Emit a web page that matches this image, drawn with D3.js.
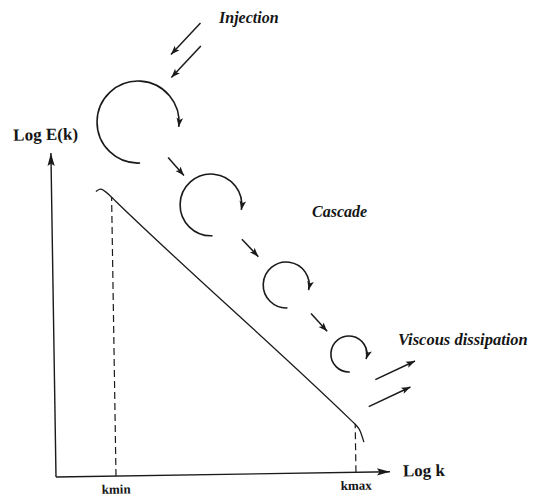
<!DOCTYPE html>
<html>
<head>
<meta charset="utf-8">
<script src="https://cdn.jsdelivr.net/npm/d3@7"></script>
<style>
    body { margin: 0; background: #fff; }
    svg { display: block; }
    text { font-family: "Liberation Serif", "Times New Roman", serif; font-weight: bold; fill: #151515; }
</style>
</head>
<body>
<div id="chart"></div>
<script>
// energy spectrum (log k, log E)
const spectrumLogK = [1.11, 1.22, 1.5, 1.6, 7.4, 7.5, 7.62, 7.71];
const spectrumLogE = [7.12, 7.18, 6.97, 6.87, 1.3, 1.2, 1.03, 0.75];

// cut-off wavenumbers
const cutoffNames = ["kmin", "kmax"];
const cutoffLogK = [1.5, 7.5];

// eddies of the cascade (where they sit in the log k / log E plane)
const eddyLogK = [2.19, 3.98, 5.83, 7.37];
const eddyLogE = [8.84, 6.74, 4.71, 2.96];

const axisTitles = ["Log k", "Log E(k)"];
const stageLabels = ["Injection", "Cascade", "Viscous dissipation"];

const width = 535, height = 496;
const ink = "#1a1a1a";

const svg = d3.select("#chart").append("svg")
    .attr("width", width)
    .attr("height", height);

svg.append("rect").attr("width", width).attr("height", height).attr("fill", "#fff");

// arrow heads
const defs = svg.append("defs");
defs.append("marker")
    .attr("id", "head")
    .attr("markerUnits", "userSpaceOnUse")
    .attr("viewBox", "-1 -5 12 10")
    .attr("refX", 9).attr("refY", 0)
    .attr("markerWidth", 12).attr("markerHeight", 10)
    .attr("orient", "auto")
    .append("path")
    .attr("d", "M0,-3.3L9,0L0,3.3L2,0Z")
    .attr("fill", ink);
defs.append("marker")
    .attr("id", "axisHead")
    .attr("markerUnits", "userSpaceOnUse")
    .attr("viewBox", "-1 -5 16 10")
    .attr("refX", 13).attr("refY", 0)
    .attr("markerWidth", 16).attr("markerHeight", 10)
    .attr("orient", "auto")
    .append("path")
    .attr("d", "M0,-3.6L13,0L0,3.6L2.5,0Z")
    .attr("fill", ink);

// the scan is tilted by about one degree
const plot = svg.append("g")
    .attr("transform", "rotate(-0.9, 56, 477)");

const x = d3.scaleLinear().domain([0, 8.35]).range([56, 390]);
const y = d3.scaleLinear().domain([0, 8.1]).range([477, 153]);

// axes
plot.append("line")
    .attr("x1", x(0)).attr("y1", y(0))
    .attr("x2", x(x.domain()[1])).attr("y2", y(0))
    .attr("stroke", ink).attr("stroke-width", 1.4)
    .attr("marker-end", "url(#axisHead)");
plot.append("line")
    .attr("x1", x(0)).attr("y1", y(0))
    .attr("x2", x(0)).attr("y2", y(y.domain()[1]))
    .attr("stroke", ink).attr("stroke-width", 1.4)
    .attr("marker-end", "url(#axisHead)");

plot.append("text")
    .attr("x", x(x.domain()[1]) + 13)
    .attr("y", y(0) + 5)
    .style("font-size", "17px")
    .text(axisTitles[0]);
plot.append("text")
    .attr("x", x(0) - 5)
    .attr("y", y(y.domain()[1]) - 13)
    .attr("text-anchor", "middle")
    .style("font-size", "17px")
    .text(axisTitles[1]);

// spectrum
let spectrum = spectrumLogK.map((k, i) => ({ k: k, e: spectrumLogE[i] }));
plot.append("path")
    .datum(spectrum)
    .attr("fill", "none")
    .attr("stroke", ink)
    .attr("stroke-width", 1.3)
    .attr("d", d3.line().x(d => x(d.k)).y(d => y(d.e)).curve(d3.curveMonotoneX));

// cut-offs
cutoffLogK.forEach((k, i) => {
    let e = spectrumLogE[spectrumLogK.indexOf(k)];
    plot.append("line")
        .attr("x1", x(k)).attr("y1", y(0))
        .attr("x2", x(k)).attr("y2", y(e))
        .attr("stroke", ink).attr("stroke-width", 1.2)
        .attr("stroke-dasharray", "7,4");
    plot.append("text")
        .attr("x", x(k))
        .attr("y", y(0) + 17.5)
        .attr("text-anchor", "middle")
        .style("font-size", "13px")
        .text(cutoffNames[i]);
});

// eddies: radius shrinks with k
const logR = d3.scaleLinear()
    .domain([eddyLogK[0], eddyLogK[eddyLogK.length - 1]])
    .range([Math.log(41), Math.log(18)]);

let eddies = eddyLogK.map((k, i) => ({ cx: x(k), cy: y(eddyLogE[i]), r: Math.exp(logR(k)) }));

plot.selectAll(".eddy")
    .data(eddies)
    .enter().append("path")
    .attr("class", "eddy")
    .attr("fill", "none")
    .attr("stroke", ink)
    .attr("stroke-width", 1.6)
    .attr("marker-end", "url(#head)")
    .attr("d", d => {
        let p = d3.path();
        p.arc(d.cx, d.cy, d.r, 88 * Math.PI / 180, 2 * Math.PI + 5.5 / d.r);
        return p.toString();
    });

// arrows
function arrow(x1, y1, x2, y2) {
    plot.append("line")
        .attr("x1", x1).attr("y1", y1)
        .attr("x2", x2).attr("y2", y2)
        .attr("stroke", ink).attr("stroke-width", 1.5)
        .attr("marker-end", "url(#head)");
}

// between eddies
for (let i = 0; i < eddies.length - 1; i++) {
    let a = eddies[i], b = eddies[i + 1];
    let dx = b.cx - a.cx, dy = b.cy - a.cy;
    let len = Math.hypot(dx, dy);
    let ux = dx / len, uy = dy / len;
    let mx = (a.cx + b.cx) / 2 + 1.5, my = (a.cy + b.cy) / 2 + 3;
    arrow(mx - ux * 12, my - uy * 12, mx + ux * 12, my + uy * 12);
}

// injection, into the first eddy
let first = eddies[0];
arrow(first.cx + 64, first.cy - 98, first.cx + 34, first.cy - 67);
arrow(first.cx + 64, first.cy - 75, first.cx + 34, first.cy - 44);

// dissipation, out of the last eddy
let last = eddies[eddies.length - 1];
arrow(last.cx + 26, last.cy + 26, last.cx + 66, last.cy + 8);
arrow(last.cx + 19, last.cy + 53, last.cx + 61, last.cy + 34);

// stage labels
const labelPos = [[219, 23, 16], [312, 217, 16], [398, 345, 16.5]];
stageLabels.forEach((t, i) => {
    svg.append("text")
        .attr("x", labelPos[i][0])
        .attr("y", labelPos[i][1])
        .style("font-size", labelPos[i][2] + "px")
        .style("font-style", "italic")
        .text(t);
});
</script>
</body>
</html>
